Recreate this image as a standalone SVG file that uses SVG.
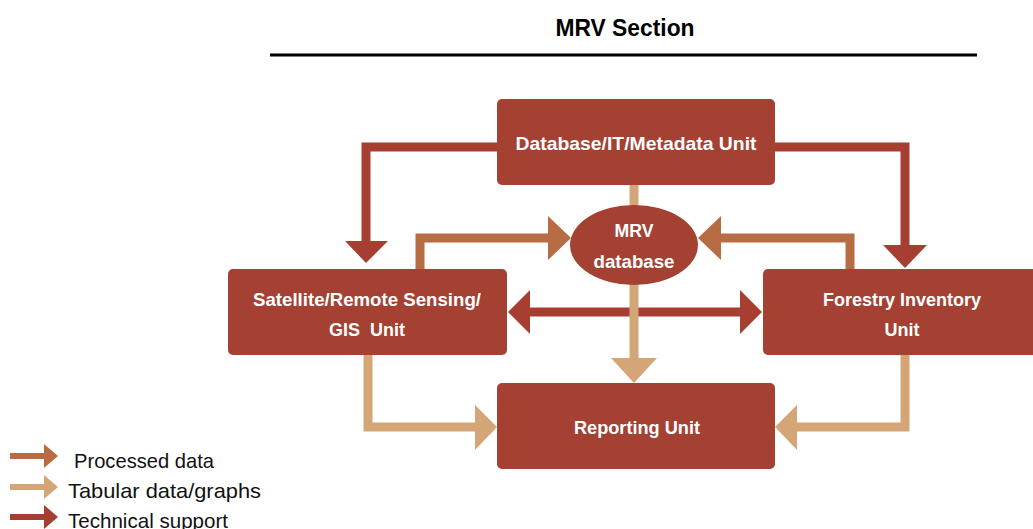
<svg xmlns="http://www.w3.org/2000/svg" width="1033" height="529" viewBox="0 0 1033 529">
  <style>
    .box { fill: #a54133; }
    .lbl { font-family: "Liberation Sans", Arial, sans-serif; font-weight: bold; font-size: 19px; fill: #ffffff; text-anchor: middle; }
    .tech { fill: none; stroke: #a63e31; stroke-width: 9; }
    .proc { fill: none; stroke: #b86c43; stroke-width: 9; }
    .tab { fill: none; stroke: #d4a677; stroke-width: 9; }
    .techH { fill: #a63e31; }
    .procH { fill: #b86c43; }
    .tabH { fill: #d4a677; }
    .leg { font-family: "Liberation Sans", Arial, sans-serif; font-size: 21px; fill: #111111; }
  </style>
  <rect width="1033" height="529" fill="#ffffff"/>

  <!-- heading -->
  <text x="625" y="36" font-family="Liberation Sans, Arial, sans-serif" font-weight="bold" font-size="23" text-anchor="middle" fill="#000" textLength="139" lengthAdjust="spacingAndGlyphs">MRV Section</text>
  <line x1="270" y1="55" x2="977" y2="55" stroke="#000" stroke-width="3"/>

  <!-- connectors -->
  <g id="connectors">
    <!-- technical support -->
    <path class="tech" d="M497,147 H366 V242"/>
    <polygon class="techH" points="345,241 388,241 366,263"/>
    <path class="tech" d="M775,147 H905 V246"/>
    <polygon class="techH" points="883,245 927,245 905,268"/>
    <line class="tech" x1="528" y1="312" x2="742" y2="312"/>
    <polygon class="techH" points="530,290 530,334 508,312"/>
    <polygon class="techH" points="740,290 740,334 762,312"/>
    <!-- processed data -->
    <path class="proc" d="M420,269 V238 H550"/>
    <polygon class="procH" points="548,216 548,260 571,238"/>
    <path class="proc" d="M850,269 V238 H720"/>
    <polygon class="procH" points="721,216 721,260 698,238"/>
    <!-- tabular data -->
    <line class="tab" x1="634" y1="185" x2="634" y2="207"/>
    <line class="tab" x1="634" y1="283" x2="634" y2="360"/>
    <polygon class="tabH" points="611,358 657,358 634,383"/>
    <path class="tab" d="M368,355 V427 H476"/>
    <polygon class="tabH" points="475,405 475,450 497,427"/>
    <path class="tab" d="M905,355 V427 H796"/>
    <polygon class="tabH" points="797,405 797,450 775,427"/>
  </g>

  <g id="db-unit">
    <rect class="box" x="497" y="99" width="278" height="86" rx="5"/>
    <text class="lbl" x="636" y="150" textLength="241" lengthAdjust="spacingAndGlyphs">Database/IT/Metadata Unit</text>
  </g>

  <g id="mrv-db">
    <ellipse class="box" cx="634" cy="245" rx="64" ry="40"/>
    <text class="lbl" x="634" y="237" textLength="39" lengthAdjust="spacingAndGlyphs">MRV</text>
    <text class="lbl" x="634" y="268" textLength="81" lengthAdjust="spacingAndGlyphs">database</text>
  </g>

  <g id="gis-unit">
    <rect class="box" x="228" y="269" width="279" height="86" rx="5"/>
    <text class="lbl" x="367" y="306" textLength="228" lengthAdjust="spacingAndGlyphs">Satellite/Remote Sensing/</text>
    <text class="lbl" x="367" y="336" xml:space="preserve" textLength="76" lengthAdjust="spacingAndGlyphs">GIS  Unit</text>
  </g>

  <g id="forest-unit">
    <rect class="box" x="763" y="269" width="280" height="86" rx="5"/>
    <text class="lbl" x="902" y="306" textLength="158" lengthAdjust="spacingAndGlyphs">Forestry Inventory</text>
    <text class="lbl" x="902" y="336" textLength="35" lengthAdjust="spacingAndGlyphs">Unit</text>
  </g>

  <g id="report-unit">
    <rect class="box" x="497" y="383" width="278" height="86" rx="5"/>
    <text class="lbl" x="637" y="434" textLength="126" lengthAdjust="spacingAndGlyphs">Reporting Unit</text>
  </g>

  <!-- key -->
  <g id="legend">
    <line x1="10" y1="456" x2="46" y2="456" stroke="#b86c43" stroke-width="6"/>
    <polygon points="44,444 44,468 58,456" fill="#b86c43"/>
    <text class="leg" x="74" y="468" textLength="140" lengthAdjust="spacingAndGlyphs">Processed data</text>
    <line x1="10" y1="487" x2="46" y2="487" stroke="#d4a677" stroke-width="6"/>
    <polygon points="44,475 44,499 58,487" fill="#d4a677"/>
    <text class="leg" x="68" y="498" textLength="193" lengthAdjust="spacingAndGlyphs">Tabular data/graphs</text>
    <line x1="10" y1="517" x2="46" y2="517" stroke="#a63e31" stroke-width="6"/>
    <polygon points="44,505 44,529 58,517" fill="#a63e31"/>
    <text class="leg" x="68" y="528" textLength="160" lengthAdjust="spacingAndGlyphs">Technical support</text>
  </g>
</svg>
